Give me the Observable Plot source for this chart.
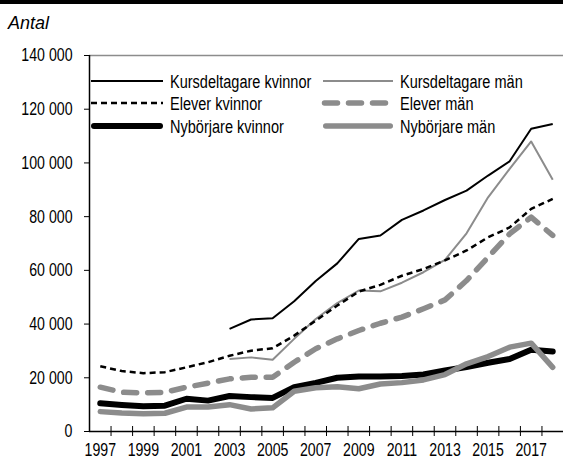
<!DOCTYPE html>
<html>
<head>
<meta charset="utf-8">
<script src="https://cdn.jsdelivr.net/npm/d3@7"></script>
<script src="https://cdn.jsdelivr.net/npm/@observablehq/plot@0.6"></script>
<style>
  body { margin: 0; background: #fff; }
  #wrap { position: relative; width: 563px; height: 459px; overflow: hidden; background: #fff; }
  #band { position: absolute; left: 0; top: 0; width: 563px; height: 4px; background: #000; }
  #unit { position: absolute; left: 8px; top: 14px; font-family: "Liberation Sans", Arial, sans-serif;
          font-style: italic; font-size: 18px; line-height: 18px; color: #000; }
  #chart { position: absolute; left: 0; top: 36px; }
  #legend { position: absolute; left: 0; top: 0; pointer-events: none; }
</style>
</head>
<body>
<div id="wrap">
  <div id="band"></div>
  <div id="unit">Antal</div>
  <div id="chart"></div>
  <svg id="legend" width="563" height="459"></svg>
</div>
<script>
const years = [1997,1998,1999,2000,2001,2002,2003,2004,2005,2006,2007,2008,2009,2010,2011,2012,2013,2014,2015,2016,2017,2018];
const yearLabels = [1997,1999,2001,2003,2005,2007,2009,2011,2013,2015,2017];
const yTicks = [0,20000,40000,60000,80000,100000,120000,140000];

const kursdeltagareKvinnor = [null,null,null,null,null,null,38200,41700,42200,48500,56000,62600,71700,73000,78800,82300,86200,89700,95300,100600,112700,114500];
const kursdeltagareMan     = [null,null,null,null,null,null,27000,27600,26700,34500,41900,47800,52500,52200,55400,59300,63900,73800,87200,97800,108000,93700];
const eleverKvinnor        = [24300,22500,21700,22100,23900,25800,28200,30100,31000,35700,41300,46900,52100,54600,58000,60500,63700,67400,72300,76000,82900,86600];
const eleverMan            = [16500,14600,14400,14600,16500,18000,19600,20200,20200,25800,30800,34500,37600,40300,42600,45700,49000,56200,64900,73600,79800,73000];
const nyborjareKvinnor     = [10500,9900,9400,9600,12200,11500,13200,12800,12500,16500,18100,20000,20500,20500,20700,21200,22700,24000,25600,27000,30400,29800];
const nyborjareMan         = [7400,6900,6600,6800,9100,9100,10000,8400,8800,15000,16300,16700,15900,17700,18200,19200,21200,25200,27900,31400,32900,23900];

const seriesNames = ["Kursdeltagare kvinnor","Kursdeltagare män","Elever kvinnor","Elever män","Nybörjare kvinnor","Nybörjare män"];
const seriesValues = [kursdeltagareKvinnor, kursdeltagareMan, eleverKvinnor, eleverMan, nyborjareKvinnor, nyborjareMan];

const BLACK = "#000000", GRAY = "#8c8c8c";
const styles = [
  {stroke: BLACK, strokeWidth: 2,   dash: null,     cap: "butt"},
  {stroke: GRAY,  strokeWidth: 2,   dash: null,     cap: "butt"},
  {stroke: BLACK, strokeWidth: 2.5, dash: "6,4",    cap: "butt"},
  {stroke: GRAY,  strokeWidth: 5.5, dash: "13,11",  cap: "round"},
  {stroke: BLACK, strokeWidth: 6,   dash: null,     cap: "round"},
  {stroke: GRAY,  strokeWidth: 5.5, dash: null,     cap: "round"}
];

const fmt = d => d3.format(",")(d).replace(/,/g, " ");
const bounds = years.slice(0, -1).map(y => y + 0.5);

const W = 563, H = 423, mT = 19, mB = 28, mL = 89, mR = 0;
const frameH = H - mT - mB;
const font = '"Liberation Sans", Arial, sans-serif';
const SX = 0.765; // horizontal condensing of text

const lineMarks = seriesValues.map((vals, i) => {
  const data = years.map((y, j) => ({year: y, value: vals[j]}));
  const s = styles[i];
  return Plot.lineY(data, {
    x: "year", y: "value",
    stroke: s.stroke, strokeWidth: s.strokeWidth,
    strokeDasharray: s.dash, strokeLinecap: s.cap, strokeLinejoin: "round"
  });
});

const chart = Plot.plot({
  width: W, height: H,
  marginTop: mT, marginBottom: mB, marginLeft: mL, marginRight: mR,
  x: {domain: [1996.5, 2018.5]},
  y: {domain: [0, 140000]},
  style: {fontFamily: font, fontSize: "18.5px", color: "#000", background: "transparent", overflow: "visible"},
  marks: [
    Plot.axisY({ticks: yTicks, tickSize: 5, tickPadding: 12, tickFormat: fmt, label: null, stroke: BLACK, fontSize: 18.5}),
    Plot.axisX({ticks: yearLabels, tickSize: 0, tickPadding: 11, tickFormat: d => String(d), label: null, fontSize: 18.5}),
    Plot.ruleX(bounds, {x: d => d, stroke: BLACK, strokeWidth: 1, insetTop: frameH - 5, insetBottom: -5}),
    Plot.ruleY([140000], {stroke: GRAY, strokeWidth: 1.5}),
    Plot.ruleY([0], {stroke: BLACK, strokeWidth: 1.5}),
    Plot.ruleX([1996.5], {stroke: BLACK, strokeWidth: 1.5}),
    ...lineMarks
  ]
});
document.getElementById("chart").appendChild(chart);

// condense text horizontally about its own anchor (the reference uses a condensed face)
d3.select(chart).selectAll("text").each(function () {
  const t = d3.select(this);
  const xa = t.attr("x");
  const x = (xa != null && !isNaN(+xa)) ? +xa : 0;
  const tr = t.attr("transform") || "";
  t.attr("transform", `${tr} translate(${x},0) scale(${SX},1) translate(${-x},0)`);
});

const legend = d3.select("#legend");
const cols = [{x1: 91, x2: 163, tx: 170}, {x1: 324.5, x2: 386, tx: 400}];
const rows = [81, 103, 126];
seriesNames.forEach((name, i) => {
  const c = cols[i % 2], r = rows[Math.floor(i / 2)], s = styles[i];
  const g = legend.append("g");
  let x1 = c.x1, x2 = c.x2;
  if (s.cap === "round" && !s.dash) { x1 += s.strokeWidth / 2; x2 -= s.strokeWidth / 2; }
  if (i % 2 === 1 && !s.dash) { x1 = 323; x2 = 393; if (s.cap === "round") { x1 += 2.75; x2 -= 2.75; } }
  g.append("line").attr("x1", x1).attr("x2", x2).attr("y1", r).attr("y2", r)
    .attr("stroke", s.stroke).attr("stroke-width", s.strokeWidth)
    .attr("stroke-dasharray", s.dash).attr("stroke-linecap", s.cap);
  g.append("text").attr("transform", `translate(${c.tx},${r}) scale(${SX},1)`).attr("dy", "0.35em")
    .attr("font-family", font).attr("font-size", "19px").attr("fill", "#000").text(name);
});
</script>
</body>
</html>
